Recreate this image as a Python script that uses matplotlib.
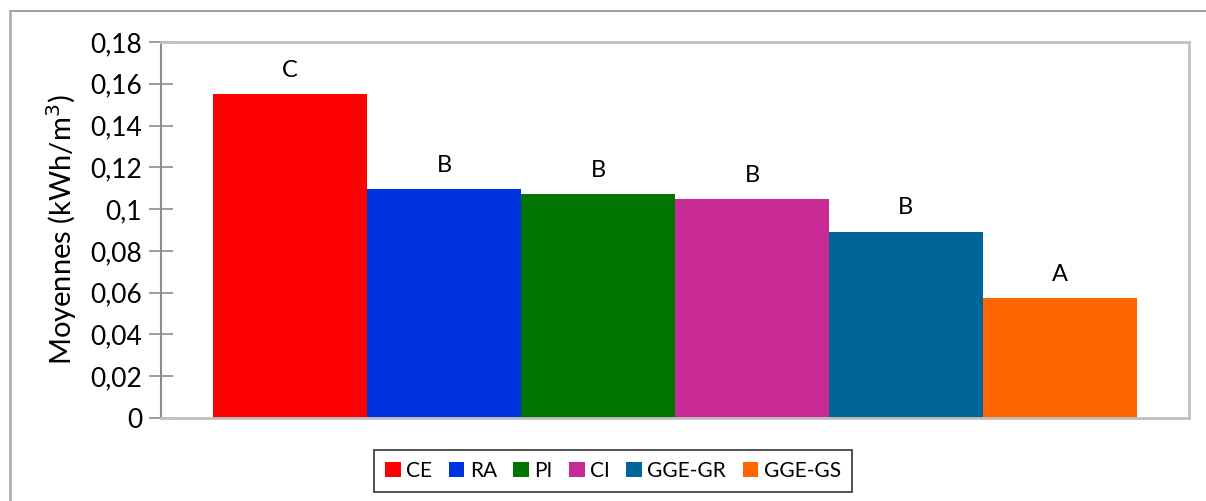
import matplotlib.pyplot as plt
from matplotlib.lines import Line2D

plt.rcParams['font.family'] = ['Lato', 'DejaVu Sans']

groups = ['CE', 'RA', 'PI', 'CI', 'GGE-GR', 'GGE-GS']
means = [0.155, 0.1095, 0.1072, 0.1047, 0.0891, 0.0574]
letters = ['C', 'B', 'B', 'B', 'B', 'A']
colors = ['#ff0000', '#0033e0', '#007500', '#c82a96', '#006699', '#ff6600']
ytick_labels = ['0', '0,02', '0,04', '0,06', '0,08', '0,1', '0,12', '0,14', '0,16', '0,18']

fig = plt.figure(figsize=(12.06, 5.01), dpi=100)
W, H = 1206, 501
ax = fig.add_axes([161 / W, 1 - 418 / H, (1189 - 161) / W, (418 - 42) / H])

x = range(len(groups))
bars = ax.bar(x, means, width=1.0, color=colors, label=groups, linewidth=0)

for xi, v, lab in zip(x, means, letters):
    ax.text(xi, v + 0.0115, lab, ha='center', va='center', fontsize=17)

ax.set_xlim(-0.84, 5.84)
ax.set_ylim(0, 0.18)
ax.set_yticks([i * 0.02 for i in range(10)])
ax.set_yticklabels(ytick_labels)
ax.set_xticks([])
ax.tick_params(axis='y', direction='inout', length=17, width=1.2, color='#8c8c8c',
               labelsize=19, pad=5)
for s in ['top', 'right']:
    ax.spines[s].set_color('#c0c0c0')
    ax.spines[s].set_linewidth(2)
ax.spines['left'].set_color('#8c8c8c')
ax.spines['left'].set_linewidth(1.5)
ax.spines['bottom'].set_color('#c0c0c0')
ax.spines['bottom'].set_linewidth(2)

ax.set_ylabel('Moyennes (kWh/m$^3$)', fontsize=21, labelpad=8)

leg = fig.legend(handles=bars, labels=groups, loc='center', ncol=6,
                 bbox_to_anchor=(613 / W, 1 - 471 / H), fontsize=15,
                 frameon=True, fancybox=False, edgecolor='black',
                 handlelength=0.75, handleheight=0.75, handletextpad=0.25,
                 columnspacing=0.8, borderpad=0.55, borderaxespad=0)
leg.get_frame().set_linewidth(1.2)

# outer chart border (top and left)
fig.add_artist(Line2D([10 / W, 1], [1 - 11 / H, 1 - 11 / H], color='#8c8c8c', lw=1.2))
fig.add_artist(Line2D([10 / W, 10 / W], [0, 1 - 11 / H], color='#b0b0b0', lw=2))

fig.savefig('out.png', dpi=100)
